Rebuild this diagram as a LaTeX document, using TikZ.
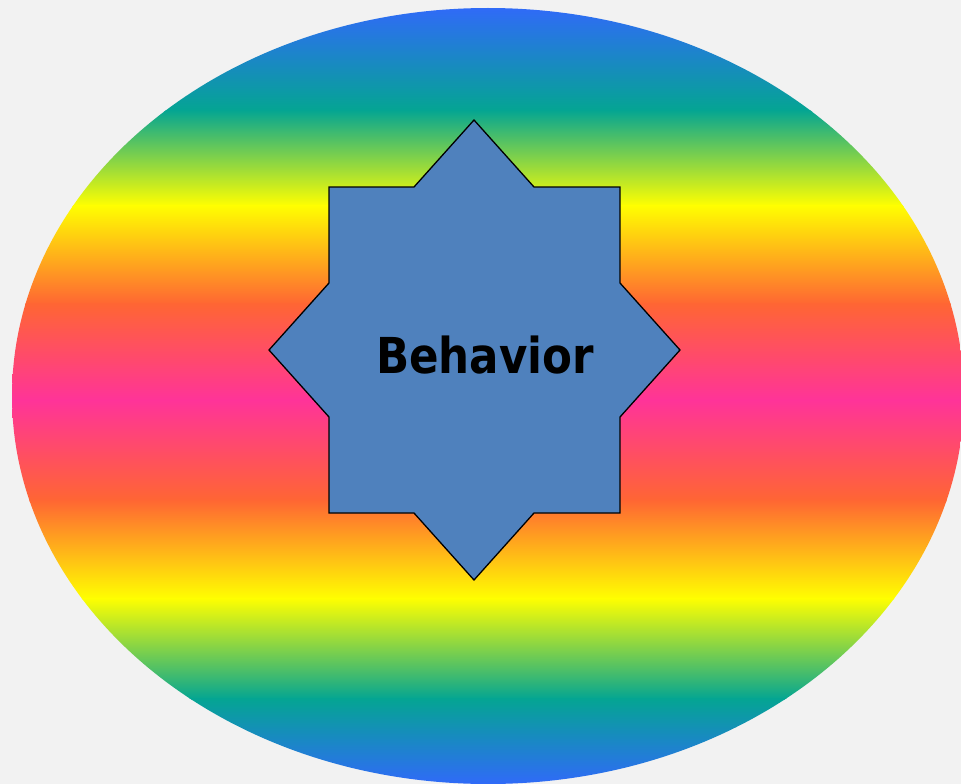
\documentclass[tikz,border=0pt]{standalone}
\usepackage{fontspec}
\newfontfamily\labelfont{DejaVu Sans}
\definecolor{bg}{HTML}{F2F2F2}
\definecolor{gblue}{HTML}{3366FF}
\definecolor{gteal}{HTML}{04A592}
\definecolor{gyellow}{HTML}{FFFF00}
\definecolor{gorange}{HTML}{FF6633}
\definecolor{gpink}{HTML}{FF3399}
\definecolor{starfill}{HTML}{4F81BD}
\tikzset{
  starshape/.style={draw=black, line width=1.3pt, line join=miter, fill=starfill},
  labeltext/.style={inner sep=0pt, anchor=base, font=\labelfont\bfseries\fontsize{49.5}{54}\selectfont, text=black}
}
\begin{document}
\begin{tikzpicture}[x=1pt,y=-1pt]
\fill[bg] (0,0) rectangle (961,784);
\useasboundingbox (0,0) rectangle (961,784);
\begin{scope}
\clip (488,396) ellipse [x radius=476, y radius=388];
\shade[top color=gblue, bottom color=gteal] (0,0) rectangle (961,111);
\shade[top color=gteal, bottom color=gyellow] (0,110) rectangle (961,206);
\shade[top color=gyellow, bottom color=gorange] (0,205) rectangle (961,304);
\shade[top color=gorange, bottom color=gpink] (0,303) rectangle (961,401);
\shade[top color=gpink, bottom color=gorange] (0,400) rectangle (961,501);
\shade[top color=gorange, bottom color=gyellow] (0,500) rectangle (961,599);
\shade[top color=gyellow, bottom color=gteal] (0,598) rectangle (961,699);
\shade[top color=gteal, bottom color=gblue] (0,698) rectangle (961,790);
\end{scope}
\draw[starshape] (474,120) -- (414,187) -- (329,187) -- (329,283) -- (269,350)
  -- (329,417) -- (329,513) -- (414,513) -- (474,580) -- (534,513)
  -- (620,513) -- (620,417) -- (680,350) -- (620,283) -- (620,187)
  -- (534,187) -- cycle;
\node[labeltext] (behavior) at (485,373.3) {\scalebox{0.88}[1]{Behavior}};
\end{tikzpicture}
\end{document}
